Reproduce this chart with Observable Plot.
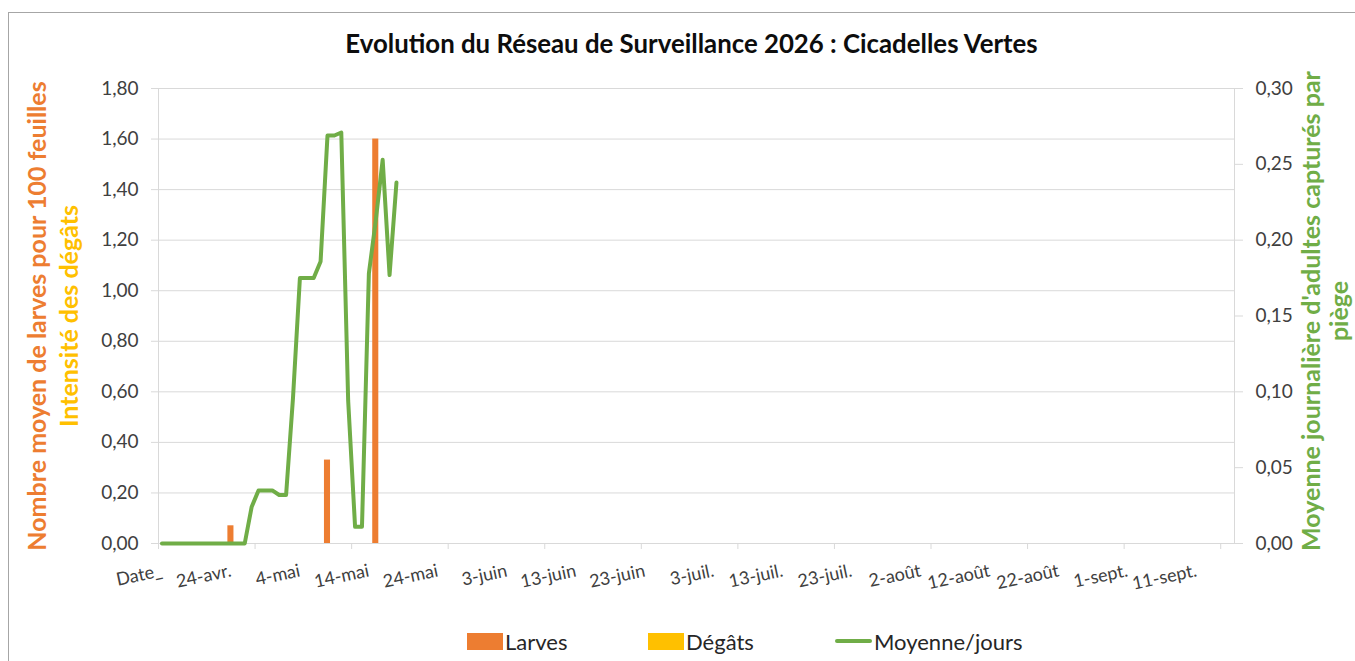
<!DOCTYPE html>
<html>
<head>
<meta charset="utf-8">
<script src="https://cdn.jsdelivr.net/npm/d3@7"></script>
<script src="https://cdn.jsdelivr.net/npm/@observablehq/plot@0.6"></script>
<style>
  body { margin: 0; background: #fff; font-family: Lato, "Open Sans", sans-serif; }
  #wrap { position: relative; width: 1355px; height: 661px; overflow: hidden; background: #fff; }
  #frame { position: absolute; left: 8px; top: 12px; width: 1400px; height: 700px; border: 1px solid #a6a6a6; }
  #chart { position: absolute; left: 0; top: 0; }
  #legend { position: absolute; left: 0; top: 628px; height: 26px; width: 1355px; }
  .item { position: absolute; top: 0; height: 26px; display: flex; align-items: center; font-size: 22px; color: #262626; }
  .sw { display: inline-block; width: 36px; height: 17px; margin-right: 2px; }
  .ln { display: inline-block; width: 37px; height: 4px; margin-right: 2px; border-radius: 2px; }
</style>
</head>
<body>
<div id="wrap">
  <div id="frame"></div>
  <div id="chart"></div>
  <div id="legend"></div>
</div>
<script>
// ---- data ----
// day index 0 = "Date_" category (14 avril), one category per day
const xLabels = ["Date_", "24-avr.", "4-mai", "14-mai", "24-mai", "3-juin", "13-juin", "23-juin",
  "3-juil.", "13-juil.", "23-juil.", "2-août", "12-août", "22-août", "1-sept.", "11-sept."];
const xLabelDays = [0, 10, 20, 30, 40, 50, 60, 70, 80, 90, 100, 110, 120, 130, 140, 150];
const xTickDays = [-0.5, 13.5, 27.5, 41.5, 55.5, 69.5, 83.5, 97.5, 111.5, 125.5, 139.5, 153.5];

// Larves (left axis, nombre moyen pour 100 feuilles)
const larvesDays = [10, 24, 31];
const larvesValues = [0.07, 0.33, 1.60];
// Dégâts (left axis, intensité) – none recorded
const degatsDays = [10, 24, 31];
const degatsValues = [0, 0, 0];
// Moyenne/jours (right axis, adultes capturés par piège), days 0..34
const moyenneValues = [0, 0, 0, 0, 0, 0, 0, 0, 0, 0, 0, 0, 0,
  0.024, 0.035, 0.035, 0.035, 0.032, 0.032, 0.096, 0.175, 0.175, 0.175, 0.186,
  0.269, 0.269, 0.271, 0.094, 0.011, 0.011, 0.178, 0.213, 0.253, 0.177, 0.238];

const leftTicks = [0, 0.2, 0.4, 0.6, 0.8, 1.0, 1.2, 1.4, 1.6, 1.8];
const rightTicks = [0, 0.05, 0.10, 0.15, 0.20, 0.25, 0.30];
const rightMax = 0.30, leftMax = 1.8;
const ratio = leftMax / rightMax;

const ORANGE = "#ED7D31", YELLOW = "#FFC000", GREEN = "#70AD47";
const TXT = "#404040", GRID = "#d9d9d9";

const larves = larvesDays.map((d, i) => ({d, v: larvesValues[i]}));
const degats = degatsDays.map((d, i) => ({d, v: degatsValues[i]}));
const moyenne = moyenneValues.map((v, d) => ({d, v: v * ratio}));
const fmt = v => v.toFixed(2).replace(".", ",");

const chart = Plot.plot({
  width: 1355,
  height: 661,
  marginTop: 88,
  marginBottom: 118,
  marginLeft: 158,
  marginRight: 121,
  style: {fontFamily: "Lato, 'Open Sans', sans-serif", background: "transparent", overflow: "visible"},
  x: {domain: [-0.5, 155.5]},
  y: {domain: [0, leftMax]},
  marks: [
    Plot.gridY(leftTicks.filter(v => v > 0), {stroke: GRID, strokeOpacity: 1, strokeWidth: 1}),
    Plot.ruleY([0], {stroke: GRID, strokeWidth: 1.2}),
    Plot.frame({anchor: "left", stroke: GRID}),
    Plot.frame({anchor: "right", stroke: GRID}),
    // left axis
    Plot.axisY({anchor: "left", ticks: leftTicks, tickSize: 7, tickFormat: () => "", color: GRID, label: null}),
    Plot.axisY({anchor: "left", ticks: leftTicks, tickSize: 0, tickPadding: 20, tickFormat: fmt, color: TXT, fontSize: 19, label: null}),
    // right axis (secondary)
    Plot.axisY({anchor: "right", ticks: rightTicks.map(v => v * ratio), tickSize: 8, tickFormat: () => "", color: GRID, label: null}),
    Plot.axisY({anchor: "right", ticks: rightTicks.map(v => v * ratio), tickSize: 0, tickPadding: 21, tickFormat: v => fmt(v / ratio), color: TXT, fontSize: 19, textAnchor: "start", label: null}),
    // x axis ticks and labels
    Plot.axisX({ticks: xTickDays, tickSize: 6, tickFormat: () => "", color: GRID, label: null}),
    Plot.axisX({ticks: xLabelDays, tickSize: 0, tickPadding: 27, tickRotate: -12, textAnchor: "end",
      tickFormat: d => xLabels[xLabelDays.indexOf(d)], color: TXT, fontSize: 18, label: null}),
    // bars
    Plot.rectY(degats, {x1: d => d.d - 0.44, x2: d => d.d + 0.44, y: "v", fill: YELLOW}),
    Plot.rectY(larves, {x1: d => d.d - 0.44, x2: d => d.d + 0.44, y: "v", fill: ORANGE}),
    // line
    Plot.line(moyenne, {x: "d", y: "v", stroke: GREEN, strokeWidth: 4, strokeLinejoin: "round", strokeLinecap: "round"}),
    // titles
    Plot.text(["Evolution du Réseau de Surveillance 2026 : Cicadelles Vertes"], {frameAnchor: "top", textAnchor: "middle", lineAnchor: "middle", dx: -5, dy: -44, fontSize: 25.8, fontWeight: "bold", fill: "#0d0d0d"}),
    Plot.text(["Nombre moyen de larves pour 100 feuilles"], {frameAnchor: "left", textAnchor: "middle", lineAnchor: "middle", dx: -121, dy: 0, rotate: -90, fontSize: 25, fontWeight: "bold", fill: ORANGE}),
    Plot.text(["Intensité des dégâts"], {frameAnchor: "left", textAnchor: "middle", lineAnchor: "middle", dx: -89, dy: 0, rotate: -90, fontSize: 25, fontWeight: "bold", fill: YELLOW}),
    Plot.text(["Moyenne journalière d'adultes capturés par"], {frameAnchor: "right", textAnchor: "middle", lineAnchor: "middle", dx: 77, dy: -5, rotate: -90, fontSize: 25, fontWeight: "bold", fill: GREEN}),
    Plot.text(["piège"], {frameAnchor: "right", textAnchor: "middle", lineAnchor: "middle", dx: 105, dy: -5, rotate: -90, fontSize: 25, fontWeight: "bold", fill: GREEN})
  ]
});
document.getElementById("chart").appendChild(chart);

// legend
const legendItems = [
  {label: "Larves", color: ORANGE, kind: "bar", left: 467},
  {label: "Dégâts", color: YELLOW, kind: "bar", left: 648},
  {label: "Moyenne/jours", color: GREEN, kind: "line", left: 835}
];
const lg = document.getElementById("legend");
for (const it of legendItems) {
  const el = document.createElement("div");
  el.className = "item";
  el.style.left = it.left + "px";
  const sw = document.createElement("span");
  sw.className = it.kind === "bar" ? "sw" : "ln";
  sw.style.background = it.color;
  el.appendChild(sw);
  const t = document.createElement("span");
  t.textContent = it.label;
  el.appendChild(t);
  lg.appendChild(el);
}
</script>
</body>
</html>
